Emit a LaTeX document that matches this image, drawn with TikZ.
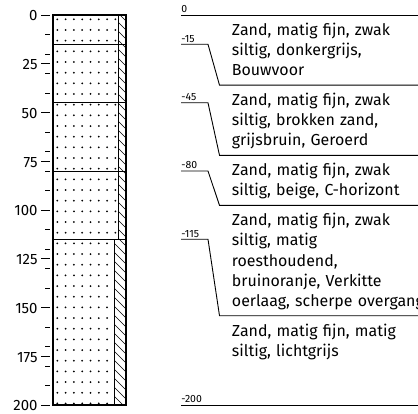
\documentclass[tikz,border=0pt]{standalone}
\usepackage{fontspec}
\setmainfont{Fira Sans}
\usetikzlibrary{positioning}
\tikzset{
  % soil column
  layerline/.style={draw, line width=0.9bp},
  hatchline/.style={draw, line width=0.6bp},
  % depth ruler
  majtick/.style={draw, line width=0.8bp},
  mintick/.style={draw, line width=0.8bp},
  scalelbl/.style={anchor=east, inner sep=0pt, font=\fontsize{15}{16}\selectfont},
  % layer descriptions
  depthlbl/.style={anchor=south west, inner xsep=0pt, inner ysep=1.5bp, font=\fontsize{10.5}{11}\selectfont},
  descr/.style={anchor=north west, text width=220bp, align=left, inner xsep=12bp, inner ysep=0pt,
    font=\fontsize{16}{20.2}\selectfont,
    execute at begin node={\rule{0pt}{20bp}},
    execute at end node={\rule[-9bp]{0pt}{9bp}}}
}

\begin{document}
\begin{tikzpicture}[x=1bp, y=-1bp, line width=0.9bp]
    \useasboundingbox (0,0) rectangle (418,414);

    % sand dots
    \begin{scope}
        \clip (53,15) rectangle (118,239.25) (53,239.25) rectangle (114,405);
        \foreach \r in {0,...,36}
            \foreach \c in {0,...,7}
                \fill ({57.3+8.3*\c},{19.3+10.67*\r}) circle (1bp);
    \end{scope}

    % hatched strip on the right
    \begin{scope}
        \clip (118,15) rectangle (126,239.25) (114,239.25) rectangle (126,405);
        \foreach \k in {0,...,46}
            \path[hatchline] (108,{3+9*\k}) -- ++(20,20);
    \end{scope}

    % column outline and layer boundaries
    \draw[line width=1.2bp] (53,15) rectangle (126,405);
    \foreach \d in {15,45,80,115}
        \path[layerline] (53,{15+1.95*\d}) -- (126,{15+1.95*\d});
    \path[layerline] (118,15) -- (118,239.25);
    \path[layerline] (114,239.25) -- (114,405);

    % ruler
    \foreach \d in {10,20,...,190}
        \path[mintick] (45,{15+1.95*\d}) -- (49.5,{15+1.95*\d});
    \foreach \d in {0,25,...,200} {
        \path[majtick] (41,{15+1.95*\d}) -- (50,{15+1.95*\d});
        \node[scalelbl] (s\d) at (38,{16+1.95*\d}) {\d};
    }

    % descriptions
    \node[descr] (l1) at (219.5,15) {Zand, matig fijn, zwak\\siltig, donkergrijs,\\Bouwvoor};
    \node[descr, below=0pt of l1] (l2) {Zand, matig fijn, zwak\\siltig, brokken zand,\\grijsbruin, Geroerd};
    \node[descr, below=0pt of l2] (l3) {Zand, matig fijn, zwak\\siltig, beige, C-horizont};
    \node[descr, below=0pt of l3] (l4) {Zand, matig fijn, zwak\\siltig, matig\\roesthoudend,\\bruinoranje, Verkitte\\oerlaag, scherpe overgang};
    \node[descr, below=0pt of l4] (l5) {Zand, matig fijn, matig\\siltig, lichtgrijs};

    % depth lines
    \coordinate (d0) at (181,15);
    \coordinate (d200) at (181,405);
    \node[depthlbl] (t0) at (d0) {0};
    \node[depthlbl] (t200) at (d200) {-200};
    \draw (d0) -- (l1.north east);
    \draw (d200) -- (d200 -| l5.east);
    \foreach \d/\l in {15/l1,45/l2,80/l3,115/l4} {
        \coordinate (d\d) at (181,{15+1.95*\d});
        \node[depthlbl] (t\d) at (d\d) {-\d};
        \draw (d\d) -- ++(27,0) -- (\l.south west) -- (\l.south east);
    }
\end{tikzpicture}
\end{document}
